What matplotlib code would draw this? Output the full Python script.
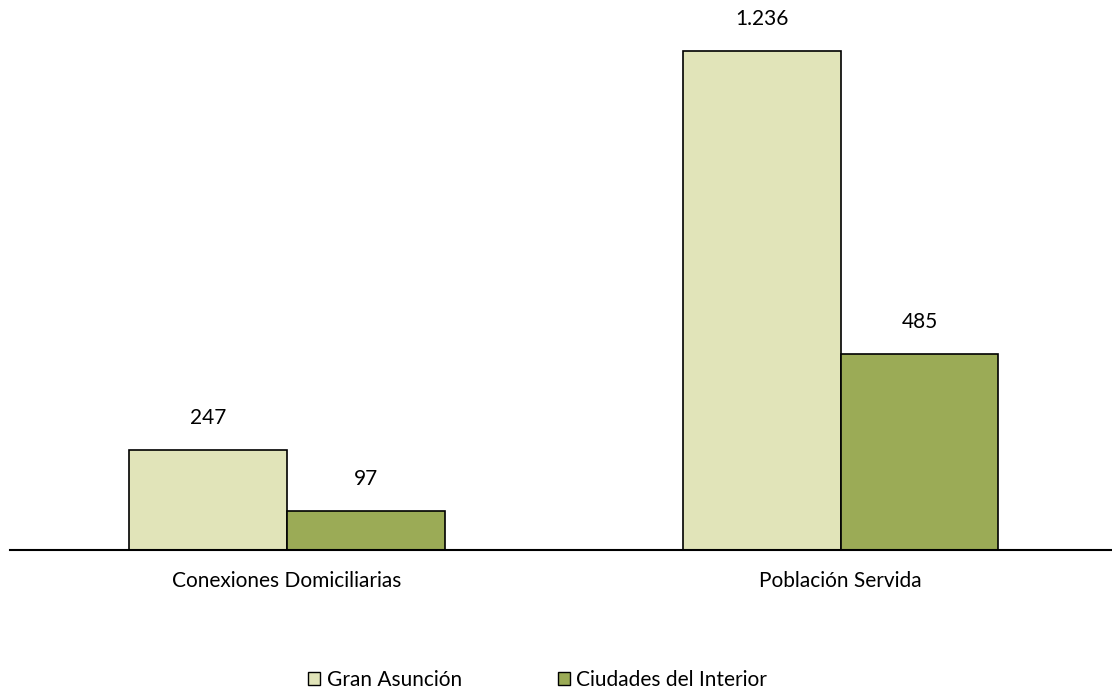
import matplotlib.pyplot as plt
import numpy as np
from matplotlib.patches import Patch

plt.rcParams['font.family'] = ['Lato', 'DejaVu Sans']

categorias = ['Conexiones Domiciliarias', 'Población Servida']
series = ['Gran Asunción', 'Ciudades del Interior']
gran_asuncion = [247, 1236]
ciudades_interior = [97, 485]
colores = ['#e1e4b9', '#9bab56']


def fmt(v):
    # separador de miles con punto
    return '{:,}'.format(v).replace(',', '.')


fig = plt.figure(figsize=(11.12, 6.91), dpi=100)
ax = fig.add_axes([0.009, 0.204, 0.991, 0.796])

x = np.arange(len(categorias))
ancho = 0.285
b1 = ax.bar(x - ancho / 2, gran_asuncion, ancho, color=colores[0], edgecolor='black', linewidth=1.2)
b2 = ax.bar(x + ancho / 2, ciudades_interior, ancho, color=colores[1], edgecolor='black', linewidth=1.2)

for barras, vals in [(b1, gran_asuncion), (b2, ciudades_interior)]:
    for b, v in zip(barras, vals):
        ax.annotate(fmt(v), (b.get_x() + b.get_width() / 2, v), xytext=(0, 16),
                    textcoords='offset points', ha='center', va='bottom', fontsize=15)

ax.set_xlim(-0.5, 1.49)
ax.set_ylim(0, 1362)
ax.set_xticks(x)
ax.set_xticklabels(categorias, fontsize=15)
ax.tick_params(axis='x', length=0, pad=15)
ax.set_yticks([])
for s in ['top', 'right', 'left']:
    ax.spines[s].set_visible(False)
ax.spines['bottom'].set_linewidth(1.5)

handles = [Patch(facecolor=c, edgecolor='black', linewidth=1) for c in colores]
fig.legend(handles, series, loc='center', bbox_to_anchor=(0.4835, 0.016), ncol=2, frameon=False,
           fontsize=15, handlelength=0.6, handleheight=0.6, handletextpad=0.3, columnspacing=4.6,
           borderpad=0, borderaxespad=0)

fig.savefig('out.png', dpi=100)
